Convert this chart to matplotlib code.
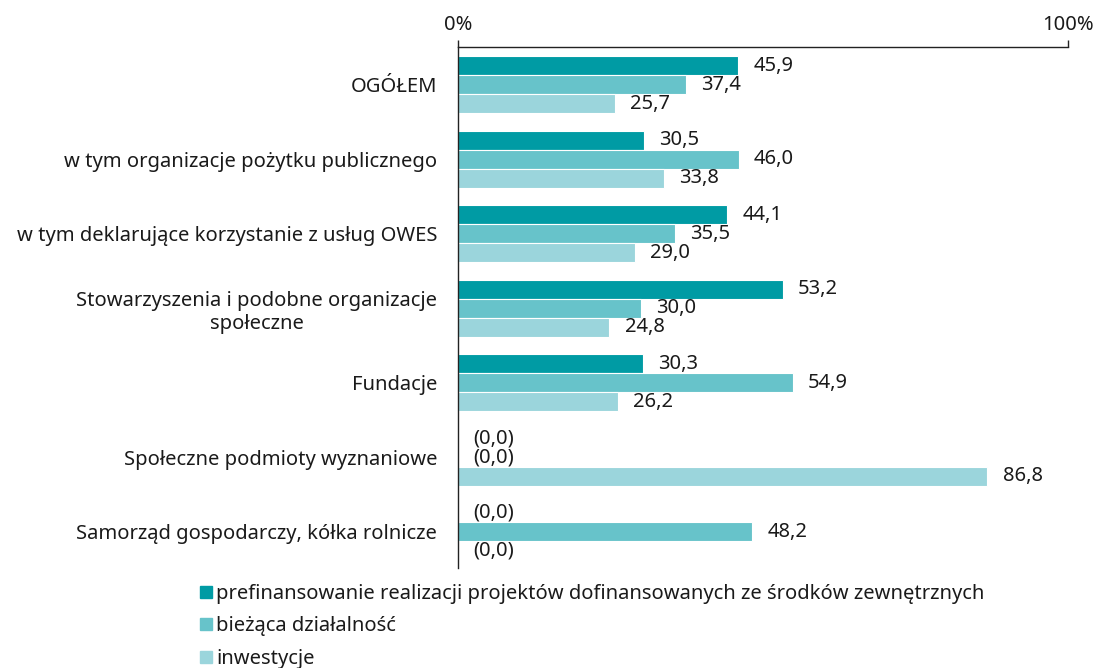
import numpy as np
import matplotlib.pyplot as plt
from matplotlib.lines import Line2D

plt.rcParams['font.family'] = ['Noto Sans', 'DejaVu Sans']

categories = [
    "OGÓŁEM",
    "w tym organizacje pożytku publicznego",
    "w tym deklarujące korzystanie z usług OWES",
    "Stowarzyszenia i podobne organizacje\nspołeczne",
    "Fundacje",
    "Społeczne podmioty wyznaniowe",
    "Samorząd gospodarczy, kółka rolnicze",
]
series_names = [
    "prefinansowanie realizacji projektów dofinansowanych ze środków zewnętrznych",
    "bieżąca działalność",
    "inwestycje",
]
prefinansowanie = [45.9, 30.5, 44.1, 53.2, 30.3, 0.0, 0.0]
biezaca = [37.4, 46.0, 35.5, 30.0, 54.9, 0.0, 48.2]
inwestycje = [25.7, 33.8, 29.0, 24.8, 26.2, 86.8, 0.0]

colors = ["#009ba4", "#67c3ca", "#9bd5dc"]
series = [prefinansowanie, biezaca, inwestycje]
fs = 14.5

W, H = 1107, 668
fig = plt.figure(figsize=(W / 100, H / 100), dpi=100)
ax = fig.add_axes([458 / W, (H - 568) / H, (1068 - 458) / W, (568 - 47) / H])

y = np.arange(len(categories))
bh = 0.255
for k, (vals, col) in enumerate(zip(series, colors)):
    pos = y + (k - 1) * bh
    ax.barh(pos, vals, height=bh, color=col, edgecolor="white", linewidth=0.8)
    for yy, v in zip(pos, vals):
        txt = "(0,0)" if v == 0 else f"{v:.1f}".replace(".", ",")
        ax.annotate(txt, (v, yy), xytext=(11, 0), textcoords="offset points",
                    ha="left", va="center", fontsize=fs, color="#1a1a1a")

ax.set_xlim(0, 100)
ax.set_ylim(6.49, -0.51)

ax.xaxis.tick_top()
ax.set_xticks([0, 100])
ax.set_xticklabels(["0%", "100%"], fontsize=fs, color="#1a1a1a")
ax.tick_params(axis="x", length=5, width=1, pad=4, color="#222222")

ax.set_yticks(y)
ax.set_yticklabels(categories, fontsize=fs, color="#1a1a1a", multialignment="center")
ax.tick_params(axis="y", length=0, pad=15)

for s in ["right", "bottom"]:
    ax.spines[s].set_visible(False)
for s in ["top", "left"]:
    ax.spines[s].set_color("#222222")
    ax.spines[s].set_linewidth(1)

handles = [Line2D([], [], marker="s", linestyle="none", markersize=8,
                  markerfacecolor=c, markeredgecolor=c) for c in colors]
fig.legend(handles, series_names, loc="upper left",
           bbox_to_anchor=(201 / W, (H - 584) / H), frameon=False,
           fontsize=fs, handlelength=0.5, handletextpad=0.25,
           labelspacing=0.62, borderpad=0, borderaxespad=0,
           labelcolor="#1a1a1a")

fig.savefig("out.png", dpi=100)
